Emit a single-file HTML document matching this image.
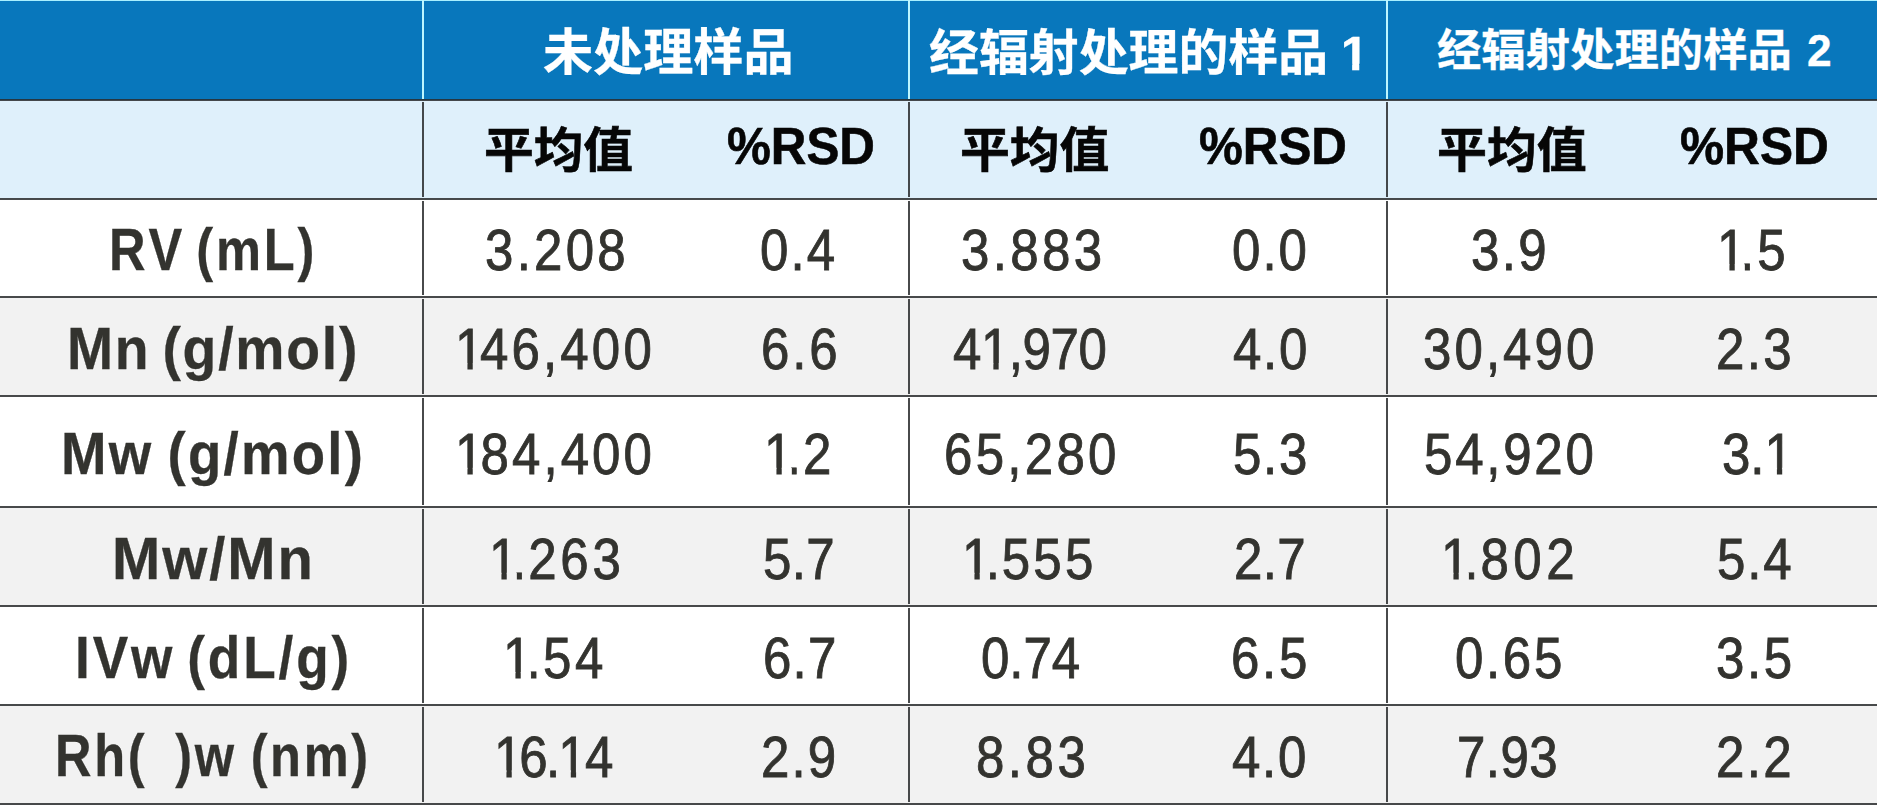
<!DOCTYPE html>
<html lang="zh-CN">
<head>
<meta charset="utf-8">
<title>未处理样品 / 经辐射处理的样品</title>
<style>
*{margin:0;padding:0;box-sizing:border-box}
html,body{width:1877px;height:805px;overflow:hidden;background:#fff}
#wrap{position:relative;width:1877px;height:805px;overflow:hidden;font-family:"Liberation Sans","Noto Sans CJK SC",sans-serif}
table{position:absolute;left:0;top:0;width:1877px;height:805px;border-collapse:collapse;border-spacing:0;table-layout:fixed}
th,td{position:relative;padding:0;border:0;overflow:visible;font-weight:inherit;text-align:left;vertical-align:top}
tr.r0{height:100px;background:#0877bc}
tr.r1{height:99px;background:#dff0fb}
tr.r2{height:98px;background:#ffffff}
tr.r3{height:99px;background:#f2f2f2}
tr.r4{height:111px;background:#ffffff}
tr.r5{height:99px;background:#f2f2f2}
tr.r6{height:99px;background:#ffffff}
tr.r7{height:100px;background:#f2f2f2}
.t{position:absolute;display:block;white-space:pre;line-height:1;height:1em;transform-origin:0 0;font-kerning:none}
.h1{color:#fff;font-weight:700;-webkit-text-stroke:0.3px #fff}
.h2{color:#060606;font-weight:700;-webkit-text-stroke:0.6px #060606}
.lb{color:#33332f;font-weight:700;-webkit-text-stroke:0.3px #33332f}
.nm{color:#33332f;font-weight:400;-webkit-text-stroke:0.9px #33332f}
.f::first-letter{letter-spacing:var(--a);margin-right:var(--m)}
.hl{position:absolute;left:0;width:1877px;height:2px;background:#2c2e2f;transform:scaleY(0.86)}
.vl{position:absolute;width:2px;background:#2c2e2f;transform:scaleX(0.86)}
.top{position:absolute;left:0;top:0;width:1877px;height:1px;background:#a9f0ff}
.vh{background:#bdf6ff;transform:none}
</style>
</head>
<body>
<div id="wrap">
<table>
<colgroup><col style="width:423px"><col style="width:259px"><col style="width:227px"><col style="width:251px"><col style="width:227px"><col style="width:253px"><col style="width:237px"></colgroup>
<thead>
<tr class="r0"><th></th><th colspan="2" scope="colgroup"><span id="h1" class="t h1" style="left:119.56px;top:28.17px;font-size:50px;transform:scaleX(1.0023)">未处理样品</span></th><th colspan="2" scope="colgroup"><span id="h2" class="t h1" style="left:20.11px;top:28.94px;font-size:48.5px;transform:scaleX(1.0284);word-spacing:-1.18px;clip-path:polygon(-0.3em -0.3em,9.1099em -0.3em,9.1099em 1.4em,8.8146em 1.4em,8.8146em 0.7164em,8.6269em 0.7164em,8.6269em 1.4em,8.4835em 1.4em,8.4835em 0.7164em,8.2831em 0.7164em,8.2831em 1.4em,-0.3em 1.4em)">经辐射处理的样品 1</span></th><th colspan="2" scope="colgroup"><span id="h3" class="t h1" style="left:50.22px;top:28.75px;font-size:44px;transform:scaleX(1.0082);word-spacing:2.8px">经辐射处理的样品 2</span></th></tr>
<tr class="r1"><th></th><th scope="col"><span id="s1" class="t h2" style="left:60.51px;top:25.7px;font-size:48.2px;transform:scaleX(1.031)">平均值</span></th><th scope="col"><span id="s2" class="t h2" style="left:44.58px;top:19.78px;font-size:52px;transform:scaleX(0.9485)">%RSD</span></th><th scope="col"><span id="s3" class="t h2" style="left:51.23px;top:25.7px;font-size:48.2px;transform:scaleX(1.0337)">平均值</span></th><th scope="col"><span id="s4" class="t h2" style="left:38.58px;top:19.78px;font-size:52px;transform:scaleX(0.9485)">%RSD</span></th><th scope="col"><span id="s5" class="t h2" style="left:50.4px;top:25.7px;font-size:48.2px;transform:scaleX(1.0361)">平均值</span></th><th scope="col"><span id="s6" class="t h2" style="left:39.66px;top:19.78px;font-size:52px;transform:scaleX(0.9539)">%RSD</span></th></tr>
</thead>
<tbody>
<tr class="r2"><th scope="row"><span id="l1" class="t lb" style="left:109.17px;top:21.13px;font-size:59.5px;transform:scaleX(0.8504);letter-spacing:3.36px;word-spacing:-6.74px">RV (mL)</span></th><td><span id="r1c1" class="t nm" style="left:61.76px;top:22.4px;font-size:58px;transform:scaleX(0.88);letter-spacing:3.7px">3.208</span></td><td><span id="r1c2" class="t nm" style="left:78.28px;top:22.4px;font-size:58px;transform:scaleX(0.88);letter-spacing:2.42px">0.4</span></td><td><span id="r1c3" class="t nm" style="left:51.56px;top:22.4px;font-size:58px;transform:scaleX(0.88);letter-spacing:3.79px">3.883</span></td><td><span id="r1c4" class="t nm" style="left:71.58px;top:22.4px;font-size:58px;transform:scaleX(0.88);letter-spacing:2.28px">0.0</span></td><td><span id="r1c5" class="t nm" style="left:83.66px;top:22.4px;font-size:58px;transform:scaleX(0.88);letter-spacing:2.64px">3.9</span></td><td><span id="r1c6" class="t nm f" style="left:77.28px;top:22.4px;font-size:58px;transform:scaleX(0.88);letter-spacing:4px;--a:-6.26px;--m:9.97px;clip-path:polygon(-0.3em -0.3em,1.7154em -0.3em,1.7154em 1.4em,0.5451em 1.4em,0.5451em 0.739em,0.3476em 0.739em,0.3476em 1.4em,0.2437em 1.4em,0.2437em 0.739em,0.0384em 0.739em,0.0384em 1.4em,-0.3em 1.4em)">1.5</span></td></tr>
<tr class="r3"><th scope="row"><span id="l2" class="t lb" style="left:67.16px;top:22.03px;font-size:59.5px;transform:scaleX(0.9294);letter-spacing:1.9px;word-spacing:-5.45px">Mn (g/mol)</span></th><td><span id="r2c1" class="t nm f" style="left:31.88px;top:23.3px;font-size:58px;transform:scaleX(0.88);letter-spacing:3.58px;--a:0px;--m:-3.95px;clip-path:polygon(-0.3em -0.3em,4.2176em -0.3em,4.2176em 1.4em,0.5451em 1.4em,0.5451em 0.739em,0.3476em 0.739em,0.3476em 1.4em,0.2437em 1.4em,0.2437em 0.739em,0.0384em 0.739em,0.0384em 1.4em,-0.3em 1.4em)">146,400</span></td><td><span id="r2c2" class="t nm" style="left:78.54px;top:23.3px;font-size:58px;transform:scaleX(0.88);letter-spacing:3.23px">6.6</span></td><td><span id="r2c3" class="t nm" style="left:44.16px;top:23.3px;font-size:58px;transform:scaleX(0.88);letter-spacing:-0.51px;clip-path:polygon(-0.3em -0.3em,3.3059em -0.3em,3.3059em 1.4em,1.0922em 1.4em,1.0922em 0.739em,0.8947em 0.739em,0.8947em 1.4em,0.7908em 1.4em,0.7908em 0.739em,0.5855em 0.739em,0.5855em 1.4em,-0.3em 1.4em)">41,970</span></td><td><span id="r2c4" class="t nm" style="left:72.66px;top:23.3px;font-size:58px;transform:scaleX(0.88);letter-spacing:1.92px">4.0</span></td><td><span id="r2c5" class="t nm" style="left:35.54px;top:23.3px;font-size:58px;transform:scaleX(0.88);letter-spacing:3.47px">30,490</span></td><td><span id="r2c6" class="t nm" style="left:75.84px;top:23.3px;font-size:58px;transform:scaleX(0.88);letter-spacing:2.61px">2.3</span></td></tr>
<tr class="r4"><th scope="row"><span id="l3" class="t lb" style="left:61.44px;top:27.63px;font-size:59.5px;transform:scaleX(0.9171);letter-spacing:2.46px;word-spacing:-3.68px">Mw (g/mol)</span></th><td><span id="r3c1" class="t nm f" style="left:32.06px;top:28.9px;font-size:58px;transform:scaleX(0.88);letter-spacing:3.45px;--a:0px;--m:-3.2px;clip-path:polygon(-0.3em -0.3em,4.217em -0.3em,4.217em 1.4em,0.5451em 1.4em,0.5451em 0.739em,0.3476em 0.739em,0.3476em 1.4em,0.2437em 1.4em,0.2437em 0.739em,0.0384em 0.739em,0.0384em 1.4em,-0.3em 1.4em)">184,400</span></td><td><span id="r3c2" class="t nm f" style="left:81.56px;top:28.9px;font-size:58px;transform:scaleX(0.88);letter-spacing:4px;--a:-6.45px;--m:8.97px;clip-path:polygon(-0.3em -0.3em,1.6917em -0.3em,1.6917em 1.4em,0.5451em 1.4em,0.5451em 0.739em,0.3476em 0.739em,0.3476em 1.4em,0.2437em 1.4em,0.2437em 0.739em,0.0384em 0.739em,0.0384em 1.4em,-0.3em 1.4em)">1.2</span></td><td><span id="r3c3" class="t nm" style="left:34.74px;top:28.9px;font-size:58px;transform:scaleX(0.88);letter-spacing:3.71px">65,280</span></td><td><span id="r3c4" class="t nm" style="left:72.7px;top:28.9px;font-size:58px;transform:scaleX(0.88);letter-spacing:1.91px">5.3</span></td><td><span id="r3c5" class="t nm" style="left:36.7px;top:28.9px;font-size:58px;transform:scaleX(0.88);letter-spacing:3.13px">54,920</span></td><td><span id="r3c6" class="t nm" style="left:81.54px;top:28.9px;font-size:58px;transform:scaleX(0.88);letter-spacing:-0.06px;clip-path:polygon(-0.3em -0.3em,1.6871em -0.3em,1.6871em 1.4em,1.377em 1.4em,1.377em 0.739em,1.1795em 0.739em,1.1795em 1.4em,1.0756em 1.4em,1.0756em 0.739em,0.8703em 0.739em,0.8703em 1.4em,-0.3em 1.4em)">3.1</span></td></tr>
<tr class="r5"><th scope="row"><span id="l4" class="t lb" style="left:111.69px;top:21.53px;font-size:59.5px;transform:scaleX(0.9732);letter-spacing:2px">Mw/Mn</span></th><td><span id="r4c1" class="t nm f" style="left:65.56px;top:22.8px;font-size:58px;transform:scaleX(0.88);letter-spacing:4.15px;--a:-6.19px;--m:8.68px;clip-path:polygon(-0.3em -0.3em,2.9536em -0.3em,2.9536em 1.4em,0.5451em 1.4em,0.5451em 0.739em,0.3476em 0.739em,0.3476em 1.4em,0.2437em 1.4em,0.2437em 0.739em,0.0384em 0.739em,0.0384em 1.4em,-0.3em 1.4em)">1.263</span></td><td><span id="r4c2" class="t nm" style="left:81.32px;top:22.8px;font-size:58px;transform:scaleX(0.88);letter-spacing:0.32px">5.7</span></td><td><span id="r4c3" class="t nm f" style="left:53.38px;top:22.8px;font-size:58px;transform:scaleX(0.88);letter-spacing:3.74px;--a:-5.21px;--m:7.15px;clip-path:polygon(-0.3em -0.3em,2.9395em -0.3em,2.9395em 1.4em,0.5451em 1.4em,0.5451em 0.739em,0.3476em 0.739em,0.3476em 1.4em,0.2437em 1.4em,0.2437em 0.739em,0.0384em 0.739em,0.0384em 1.4em,-0.3em 1.4em)">1.555</span></td><td><span id="r4c4" class="t nm" style="left:73.66px;top:22.8px;font-size:58px;transform:scaleX(0.88);letter-spacing:0.42px">2.7</span></td><td><span id="r4c5" class="t nm f" style="left:53.88px;top:22.8px;font-size:58px;transform:scaleX(0.88);letter-spacing:5.08px;--a:-5.75px;--m:7.94px;clip-path:polygon(-0.3em -0.3em,3.0039em -0.3em,3.0039em 1.4em,0.5451em 1.4em,0.5451em 0.739em,0.3476em 0.739em,0.3476em 1.4em,0.2437em 1.4em,0.2437em 0.739em,0.0384em 0.739em,0.0384em 1.4em,-0.3em 1.4em)">1.802</span></td><td><span id="r4c6" class="t nm" style="left:77.02px;top:22.8px;font-size:58px;transform:scaleX(0.88);letter-spacing:2.04px">5.4</span></td></tr>
<tr class="r6"><th scope="row"><span id="l5" class="t lb" style="left:75.23px;top:21.83px;font-size:59.5px;transform:scaleX(0.8933);letter-spacing:3.26px;word-spacing:-6.54px">IVw (dL/g)</span></th><td><span id="r5c1" class="t nm f" style="left:80.36px;top:23.1px;font-size:58px;transform:scaleX(0.88);letter-spacing:4.21px;--a:-5.44px;--m:7.95px;clip-path:polygon(-0.3em -0.3em,2.3409em -0.3em,2.3409em 1.4em,0.5451em 1.4em,0.5451em 0.739em,0.3476em 0.739em,0.3476em 1.4em,0.2437em 1.4em,0.2437em 0.739em,0.0384em 0.739em,0.0384em 1.4em,-0.3em 1.4em)">1.54</span></td><td><span id="r5c2" class="t nm" style="left:80.7px;top:23.1px;font-size:58px;transform:scaleX(0.88);letter-spacing:1.35px">6.7</span></td><td><span id="r5c3" class="t nm" style="left:71.98px;top:23.1px;font-size:58px;transform:scaleX(0.88);letter-spacing:-0.08px">0.74</span></td><td><span id="r5c4" class="t nm" style="left:71.3px;top:23.1px;font-size:58px;transform:scaleX(0.88);letter-spacing:3.08px">6.5</span></td><td><span id="r5c5" class="t nm" style="left:68.18px;top:23.1px;font-size:58px;transform:scaleX(0.88);letter-spacing:3.01px">0.65</span></td><td><span id="r5c6" class="t nm" style="left:75.72px;top:23.1px;font-size:58px;transform:scaleX(0.88);letter-spacing:2.97px">3.5</span></td></tr>
<tr class="r7"><th scope="row"><span id="l6" class="t lb" style="left:55.38px;top:21.23px;font-size:59.5px;transform:scaleX(0.8494);letter-spacing:3.13px;word-spacing:-3.18px">Rh(  )w (nm)</span></th><td><span id="r6c1" class="t nm f" style="left:71.1px;top:22.5px;font-size:58px;transform:scaleX(0.88);letter-spacing:-2px;--a:0px;--m:-3.5px;clip-path:polygon(-0.3em -0.3em,2.6044em -0.3em,2.6044em 1.4em,1.8059em 1.4em,1.8059em 0.739em,1.6084em 0.739em,1.6084em 1.4em,1.5045em 1.4em,1.5045em 0.739em,1.2992em 0.739em,1.2992em 1.4em,0.5451em 1.4em,0.5451em 0.739em,0.3476em 0.739em,0.3476em 1.4em,0.2437em 1.4em,0.2437em 0.739em,0.0384em 0.739em,0.0384em 1.4em,-0.3em 1.4em)">16.14</span></td><td><span id="r6c2" class="t nm" style="left:79.08px;top:22.5px;font-size:58px;transform:scaleX(0.88);letter-spacing:2.37px">2.9</span></td><td><span id="r6c3" class="t nm" style="left:66.59px;top:22.5px;font-size:58px;transform:scaleX(0.88);letter-spacing:3.95px">8.83</span></td><td><span id="r6c4" class="t nm" style="left:71.86px;top:22.5px;font-size:58px;transform:scaleX(0.88);letter-spacing:1.92px">4.0</span></td><td><span id="r6c5" class="t nm" style="left:70.12px;top:22.5px;font-size:58px;transform:scaleX(0.88);letter-spacing:0.53px">7.93</span></td><td><span id="r6c6" class="t nm" style="left:75.88px;top:22.5px;font-size:58px;transform:scaleX(0.88);letter-spacing:2.65px">2.2</span></td></tr>
</tbody>
</table>
<div class="top"></div>
<div class="vl vh" style="left:422px;top:0;height:99px"></div>
<div class="vl" style="left:422px;top:102px;height:95px"></div>
<div class="vl" style="left:422px;top:201px;height:94px"></div>
<div class="vl" style="left:422px;top:299px;height:95px"></div>
<div class="vl" style="left:422px;top:398px;height:107px"></div>
<div class="vl" style="left:422px;top:509px;height:95px"></div>
<div class="vl" style="left:422px;top:608px;height:95px"></div>
<div class="vl" style="left:422px;top:707px;height:95px"></div>
<div class="vl vh" style="left:908px;top:0;height:99px"></div>
<div class="vl" style="left:908px;top:102px;height:95px"></div>
<div class="vl" style="left:908px;top:201px;height:94px"></div>
<div class="vl" style="left:908px;top:299px;height:95px"></div>
<div class="vl" style="left:908px;top:398px;height:107px"></div>
<div class="vl" style="left:908px;top:509px;height:95px"></div>
<div class="vl" style="left:908px;top:608px;height:95px"></div>
<div class="vl" style="left:908px;top:707px;height:95px"></div>
<div class="vl vh" style="left:1386px;top:0;height:99px"></div>
<div class="vl" style="left:1386px;top:102px;height:95px"></div>
<div class="vl" style="left:1386px;top:201px;height:94px"></div>
<div class="vl" style="left:1386px;top:299px;height:95px"></div>
<div class="vl" style="left:1386px;top:398px;height:107px"></div>
<div class="vl" style="left:1386px;top:509px;height:95px"></div>
<div class="vl" style="left:1386px;top:608px;height:95px"></div>
<div class="vl" style="left:1386px;top:707px;height:95px"></div>
<div class="hl" style="top:99px"></div>
<div class="hl" style="top:198px"></div>
<div class="hl" style="top:296px"></div>
<div class="hl" style="top:395px"></div>
<div class="hl" style="top:506px"></div>
<div class="hl" style="top:605px"></div>
<div class="hl" style="top:704px"></div>
<div class="hl" style="top:803px"></div>
</div>
</body>
</html>
